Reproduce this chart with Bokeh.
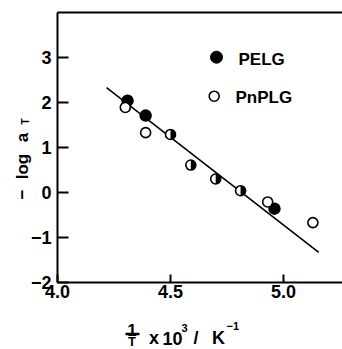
import math
from bokeh.plotting import figure
from bokeh.models import Range1d, FixedTicker, PrintfTickFormatter, Label, LinearAxis
from bokeh.embed import file_html
from bokeh.resources import INLINE

# ---- data ----
pelg_x = [4.31, 4.39, 4.50, 4.59, 4.70, 4.81, 4.96]
pelg_y = [2.04, 1.71, 1.29, 0.61, 0.30, 0.04, -0.36]
pnplg_x = [4.30, 4.39, 4.50, 4.59, 4.70, 4.81, 4.93, 5.13]
pnplg_y = [1.89, 1.33, 1.29, 0.61, 0.30, 0.04, -0.21, -0.67]
fit_x = [4.217, 5.156]
fit_y = [2.33, -1.33]
x_ticks = [4.0, 4.5, 5.0]
y_ticks = [-2, -1, 0, 1, 2, 3]

FONT = "Liberation Sans"
W, H = 342, 349
# axes box in page pixels: left 57, top 12, bottom 282, right = page edge
X0, X1 = 4.0, 4.0 + (342 - 57) / 226.0
Y0, Y1 = -2.0, 4.0


def dx(px):
    return 4.0 + (px - 57) / 226.0


def dy(py):
    return (192 - py) / 45.0


p = figure(width=W, height=H, output_backend="svg", toolbar_location=None,
           x_range=Range1d(dx(0), dx(W)), y_range=Range1d(dy(H), dy(0)),
           x_axis_location=None, y_axis_location=None)
p.title.visible = False
p.min_border = 0
p.min_border_left = 0
p.min_border_right = 0
p.min_border_top = 0
p.min_border_bottom = 0
p.outline_line_color = None
p.grid.visible = False
p.background_fill_color = "white"
p.border_fill_color = "white"

xaxis = LinearAxis(fixed_location=Y0, bounds=(X0, X1), ticker=FixedTicker(ticks=x_ticks),
                   formatter=PrintfTickFormatter(format="%.1f"))
yaxis = LinearAxis(fixed_location=X0, bounds=(Y0, Y1), ticker=FixedTicker(ticks=y_ticks))
for ax in (xaxis, yaxis):
    ax.axis_line_width = 2
    ax.axis_line_color = "black"
    ax.major_tick_line_width = 2
    ax.major_tick_line_color = "black"
    ax.major_tick_out = 0
    ax.minor_tick_line_color = None
    ax.major_label_text_font = FONT
    ax.major_label_text_font_style = "bold"
    ax.major_label_text_font_size = "18px"
    ax.major_label_text_color = "black"
xaxis.major_tick_in = 8
xaxis.major_label_standoff = 2
yaxis.major_tick_in = 11
yaxis.major_label_standoff = 6
p.add_layout(xaxis, "below")
p.add_layout(yaxis, "left")

# top border line of the axes box
p.segment(x0=[X0], y0=[Y1], x1=[X1], y1=[Y1], line_color="black", line_width=2)

# fit line
p.line(fit_x, fit_y, line_color="black", line_width=1.6)

# split into single and shared points
pairs_a = set(zip(pelg_x, pelg_y))
pairs_b = set(zip(pnplg_x, pnplg_y))
shared = [pt for pt in zip(pelg_x, pelg_y) if pt in pairs_b]
a_only = [pt for pt in zip(pelg_x, pelg_y) if pt not in pairs_b]
b_only = [pt for pt in zip(pnplg_x, pnplg_y) if pt not in pairs_a]

R = 10
p.scatter([q[0] for q in a_only], [q[1] for q in a_only], size=R + 1,
          fill_color="black", line_color="black", line_width=1.5)
p.scatter([q[0] for q in b_only], [q[1] for q in b_only], size=R,
          fill_color="white", line_color="black", line_width=1.6)
sx = [q[0] for q in shared]
sy = [q[1] for q in shared]
p.scatter(sx, sy, size=R, fill_color="white", line_color=None)
p.wedge(sx, sy, radius=R / 2, radius_units="screen", start_angle=-math.pi / 2,
        end_angle=math.pi / 2, fill_color="black", line_color=None)
p.scatter(sx, sy, size=R, fill_color=None, line_color="black", line_width=1.6)

# legend (manual)
p.scatter([dx(216)], [dy(56.7)], size=12, fill_color="black", line_color="black")
p.scatter([dx(213.7)], [dy(95.7)], size=10, fill_color="white", line_color="black", line_width=1.6)


def lab(text, px, py, fs, align="left", baseline="alphabetic", angle=0.0):
    p.add_layout(Label(x=dx(px), y=dy(py), text=text, angle=angle, text_font=FONT,
                       text_font_style="bold", text_font_size=fs, text_align=align,
                       text_baseline=baseline, text_color="black"))


lab("PELG", 238, 59, "17px", baseline="middle")
lab("PnPLG", 235, 96.5, "17px", baseline="middle")

# y axis title: "- log a_T" (rotated)
R90 = math.pi / 2
lab("\u2212", 21.5, 194, "17px", align="center", angle=R90)
lab("log", 21.5, 166, "17px", align="center", angle=R90)
lab("a", 21.5, 137, "17px", align="center", angle=R90)
lab("T", 25, 121, "10px", align="center", angle=R90)

# x axis title: 1/T x 10^3 / K^-1
lab("1", 131.5, 329.5, "17px", align="center")
p.segment(x0=[dx(125)], y0=[dy(333.5)], x1=[dx(139)], y1=[dy(333.5)], line_color="black",
          line_width=2.5)
lab("T", 131.5, 348.0, "13px", align="center", baseline="bottom")
lab("x", 148.5, 337.5, "18px")
lab("10", 162, 337.5, "18px")
lab("3", 181, 327, "11px")
lab("/", 193, 337.5, "18px")
lab("K", 211.5, 337.5, "18px")
lab("\u22121", 226, 325.5, "11px")

open("out.html", "w").write(file_html(p, INLINE))
